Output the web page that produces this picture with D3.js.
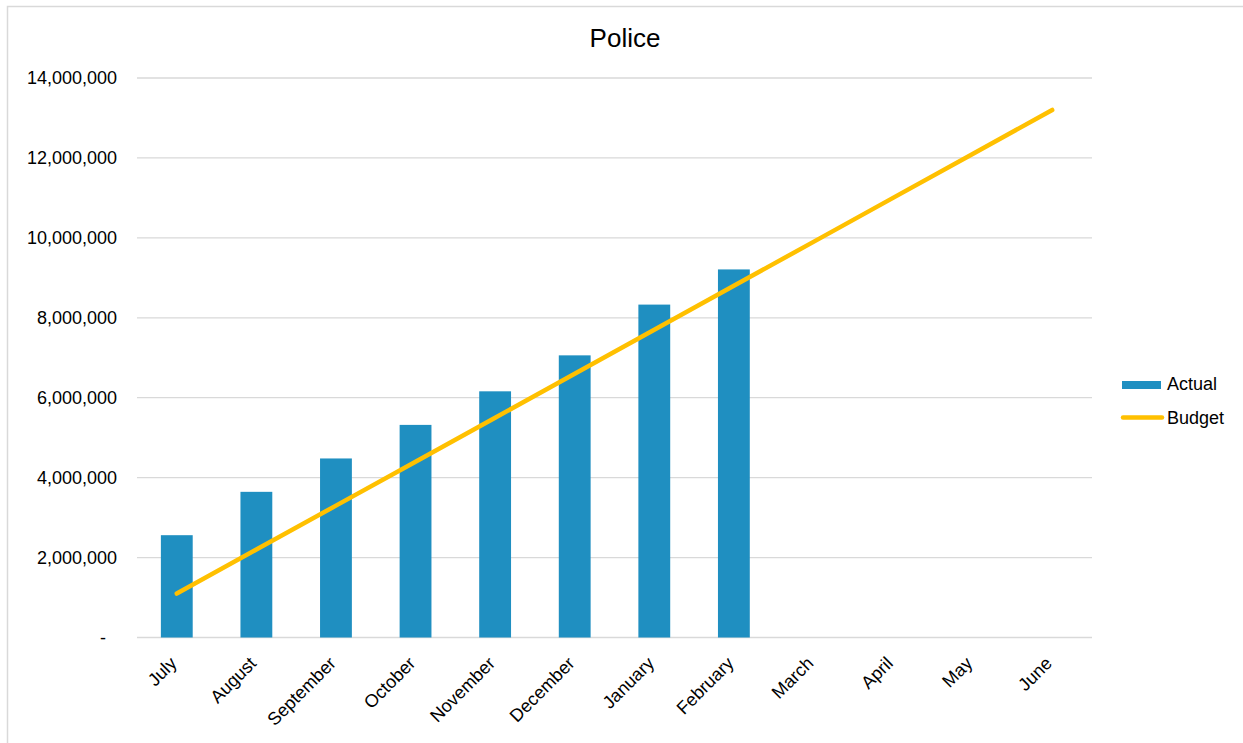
<!DOCTYPE html>
<html>
<head>
<meta charset="utf-8">
<script src="https://cdn.jsdelivr.net/npm/d3@7"></script>
<style>
  html, body { margin: 0; padding: 0; background: #fff; }
  svg { display: block; font-family: "Liberation Sans", Arial, sans-serif; }
</style>
</head>
<body>
<svg id="chart" width="1243" height="743"></svg>
<script>
// Monthly cumulative spend for the Police department
const months = ["July", "August", "September", "October", "November", "December",
                "January", "February", "March", "April", "May", "June"];
const actual = [2560000, 3645000, 4480000, 5320000, 6160000, 7060000, 8330000, 9210000,
                null, null, null, null];
const budget = [1100000, 2200000, 3300000, 4400000, 5500000, 6600000,
                7700000, 8800000, 9900000, 11000000, 12100000, 13200000];
const yTicks = [0, 2000000, 4000000, 6000000, 8000000, 10000000, 12000000, 14000000];

const svg = d3.select("#chart");
const W = 1243, H = 743;
const plot = { left: 137, right: 1092, top: 78, bottom: 637.5 };

// Chart frame (right and bottom edges fall outside the view)
svg.append("rect")
  .attr("x", 7.5).attr("y", 6.5)
  .attr("width", W + 20).attr("height", H + 20)
  .attr("fill", "#fff").attr("stroke", "#d9d9d9").attr("stroke-width", 1.5);

const x = d3.scaleBand().domain(months).range([plot.left, plot.right]).paddingInner(0.6).paddingOuter(0.3);
const y = d3.scaleLinear().domain([0, 14000000]).range([plot.bottom, plot.top]);

// Title
svg.append("text")
  .attr("x", 625).attr("y", 47)
  .attr("text-anchor", "middle")
  .attr("font-size", 26).attr("fill", "#000")
  .text("Police");

// Gridlines
svg.append("g").selectAll("line")
  .data(yTicks)
  .join("line")
  .attr("x1", plot.left).attr("x2", plot.right)
  .attr("y1", d => y(d)).attr("y2", d => y(d))
  .attr("stroke", "#d9d9d9").attr("stroke-width", 1.3);

// Y axis labels
const fmt = d3.format(",");
const yAxis = d3.axisLeft(y).tickValues(yTicks).tickSize(0).tickPadding(20)
  .tickFormat(d => d === 0 ? "-" : fmt(d));
const gy = svg.append("g").attr("transform", `translate(${plot.left},0)`).call(yAxis);
gy.select(".domain").remove();
gy.selectAll("text").attr("font-size", 18).attr("fill", "#000")
  .attr("font-family", "'Liberation Sans', Arial, sans-serif")
  .attr("dx", d => d === 0 ? -11 : 0);

// Bars
svg.append("g").selectAll("rect")
  .data(months.map((m, i) => ({ m, v: actual[i] })).filter(d => d.v != null))
  .join("rect")
  .attr("x", d => x(d.m))
  .attr("y", d => y(d.v))
  .attr("width", x.bandwidth())
  .attr("height", d => y(0) - y(d.v))
  .attr("fill", "#1f8fc1");

// Budget line
const cx = m => x(m) + x.bandwidth() / 2;
svg.append("path")
  .datum(months.map((m, i) => [cx(m), y(budget[i])]))
  .attr("d", d3.line())
  .attr("fill", "none")
  .attr("stroke", "#ffc000")
  .attr("stroke-width", 4.5)
  .attr("stroke-linecap", "round")
  .attr("stroke-linejoin", "round");

// X axis labels, rotated
const xAxis = d3.axisBottom(x).tickSize(0).tickPadding(0);
const gx = svg.append("g").attr("transform", `translate(0,${plot.bottom})`).call(xAxis);
gx.select(".domain").remove();
gx.selectAll("text")
  .attr("font-size", 18).attr("fill", "#000")
  .attr("font-family", "'Liberation Sans', Arial, sans-serif")
  .attr("text-anchor", "end")
  .attr("dy", 0)
  .attr("transform", "translate(1,27) rotate(-45)");

// Legend
const legend = svg.append("g");
legend.append("rect").attr("x", 1122).attr("y", 381).attr("width", 39).attr("height", 8).attr("fill", "#1f8fc1");
legend.append("text").attr("x", 1167).attr("y", 390).attr("font-size", 18).attr("fill", "#000").text("Actual");
legend.append("line").attr("x1", 1123).attr("x2", 1162).attr("y1", 417.5).attr("y2", 417.5)
  .attr("stroke", "#ffc000").attr("stroke-width", 4.5).attr("stroke-linecap", "round");
legend.append("text").attr("x", 1167).attr("y", 423.5).attr("font-size", 18).attr("fill", "#000").text("Budget");
</script>
</body>
</html>
